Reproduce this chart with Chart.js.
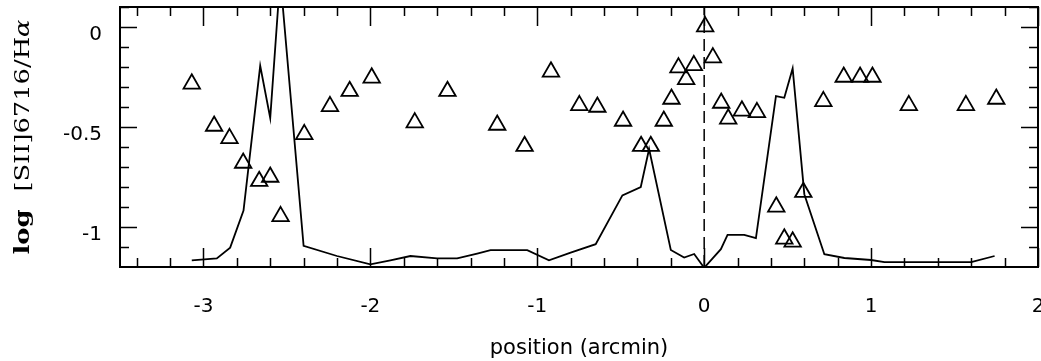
<!DOCTYPE html>
<html>
<head>
<meta charset="utf-8">
<script src="https://cdn.jsdelivr.net/npm/chart.js@4.4.1/dist/chart.umd.min.js"></script>
<style>
	html, body { margin: 0; padding: 0; background: #fff; }
	canvas { display: block; }
</style>
</head>
<body>
<canvas id="ratioChart" width="1041" height="361"></canvas>
<script>
// [SII]6716/Halpha profile along the slit
const LINE_POSITION = [
	-3.07, -2.92, -2.84, -2.76, -2.66, -2.60, -2.54, -2.40, -2.20, -2.00,
	-1.88, -1.76, -1.60, -1.48, -1.36, -1.28, -1.06, -0.93, -0.80, -0.65,
	-0.49, -0.38, -0.33, -0.20, -0.12, -0.06, 0.00, 0.10, 0.14, 0.24,
	0.31, 0.43, 0.48, 0.53, 0.60, 0.72, 0.84, 1.00, 1.08, 1.60, 1.74,
];
const LINE_RATIO = [
	-1.167, -1.157, -1.103, -0.918, -0.194, -0.455, 0.25, -1.094, -1.145, -1.187,
	-1.167, -1.145, -1.157, -1.157, -1.133, -1.116, -1.116, -1.167, -1.128, -1.086,
	-0.842, -0.80, -0.61, -1.115, -1.153, -1.135, -1.204, -1.111, -1.039, -1.039,
	-1.056, -0.345, -0.354, -0.207, -0.836, -1.136, -1.155, -1.165, -1.176, -1.176, -1.145,
];

// individual measurements (triangles)
const TRI_POSITION = [
	-3.07, -2.936, -2.844, -2.762, -2.666, -2.60, -2.538, -2.396, -2.242, -2.124,
	-1.992, -1.734, -1.538, -1.240, -1.076, -0.918, -0.748, -0.640, -0.486, -0.378,
	-0.320, -0.242, -0.196, -0.154, -0.108, -0.062, 0.006, 0.052, 0.102, 0.144,
	0.226, 0.316, 0.432, 0.480, 0.530, 0.594, 0.714, 0.836, 0.934, 1.008,
	1.226, 1.568, 1.750,
];
const TRI_RATIO = [
	-0.284, -0.495, -0.557, -0.680, -0.771, -0.750, -0.947, -0.537, -0.397, -0.321,
	-0.254, -0.478, -0.321, -0.490, -0.596, -0.224, -0.392, -0.400, -0.470, -0.596,
	-0.596, -0.470, -0.360, -0.203, -0.262, -0.192, 0.002, -0.153, -0.380, -0.459,
	-0.419, -0.427, -0.899, -1.059, -1.074, -0.826, -0.372, -0.250, -0.250, -0.250,
	-0.392, -0.392, -0.360,
];

const X_TICKS = [-3, -2, -1, 0, 1, 2];
const Y_TICKS = [-1, -0.5, 0];
const X_RANGE = [-3.5, 2];
const Y_RANGE = [-1.2, 0.1];

function toPoints(xs, ys) {
	return xs.map((x, i) => ({ x: x, y: ys[i] }));
}

// fixed axis boxes, no extra room for overhanging labels
function fixBox(scale, size) {
	if (scale.isHorizontal()) {
		scale.height = size;
	} else {
		scale.width = size;
	}
	scale.paddingTop = 0;
	scale.paddingBottom = 0;
	scale.paddingLeft = 0;
	scale.paddingRight = 0;
}

// inward ticks on all four sides plus the box
const frameTicks = {
	id: 'frameTicks',
	afterDatasetsDraw(chart) {
		const { ctx, chartArea: a, scales } = chart;
		ctx.save();
		ctx.strokeStyle = '#000';
		ctx.lineWidth = 1.5;
		ctx.beginPath();
		for (let i = Math.ceil(X_RANGE[0] / 0.2); i * 0.2 <= X_RANGE[1] + 1e-6; i++) {
			const v = i * 0.2;
			const len = Math.abs(v - Math.round(v)) < 1e-6 ? 19 : 9;
			const px = Math.round(scales.x.getPixelForValue(v)) + 0.5;
			ctx.moveTo(px, a.bottom);
			ctx.lineTo(px, a.bottom - len);
			ctx.moveTo(px, a.top);
			ctx.lineTo(px, a.top + len);
		}
		for (let i = Math.ceil(Y_RANGE[0] / 0.1); i * 0.1 <= Y_RANGE[1] + 1e-6; i++) {
			const v = i * 0.1;
			const len = Math.abs(v * 2 - Math.round(v * 2)) < 1e-6 ? 17 : 9;
			const py = Math.round(scales.y.getPixelForValue(v)) + 0.5;
			ctx.moveTo(a.left, py);
			ctx.lineTo(a.left + len, py);
			ctx.moveTo(a.right, py);
			ctx.lineTo(a.right - len, py);
		}
		ctx.stroke();
		ctx.lineWidth = 2;
		ctx.strokeRect(a.left, a.top, a.right - a.left, a.bottom - a.top);
		ctx.restore();
	},
};

// rotated y-axis title with mixed faces
const yTitle = {
	id: 'yTitle',
	afterDraw(chart) {
		const { ctx, chartArea: a } = chart;
		const parts = [
			['bold 20px "DejaVu Serif"', 'log  '],
			['20px "DejaVu Serif"', '[SII]6716/H'],
			['italic 20px "DejaVu Serif"', 'α'],
		];
		let total = 0;
		parts.forEach(p => {
			ctx.font = p[0];
			total += ctx.measureText(p[1]).width;
		});
		ctx.save();
		ctx.translate(24, (a.top + a.bottom) / 2);
		ctx.rotate(-Math.PI / 2);
		ctx.scale(235 / total, 1);
		ctx.fillStyle = '#000';
		ctx.textBaseline = 'middle';
		let cx = -total / 2;
		parts.forEach(p => {
			ctx.font = p[0];
			ctx.fillText(p[1], cx, 0);
			cx += ctx.measureText(p[1]).width;
		});
		ctx.restore();
	},
};

const ctx = document.querySelector('#ratioChart').getContext('2d');

const chart = new Chart(ctx, {
	type: 'scatter',
	data: {
		datasets: [
			{
				label: 'profile',
				data: toPoints(LINE_POSITION, LINE_RATIO),
				showLine: true,
				borderColor: '#000',
				borderWidth: 1.8,
				pointRadius: 0,
				tension: 0,
			},
			{
				label: 'centre',
				data: toPoints([0, 0], Y_RANGE),
				showLine: true,
				borderColor: '#000',
				borderWidth: 1.5,
				borderDash: [12, 6],
				pointRadius: 0,
			},
			{
				label: 'measurements',
				data: toPoints(TRI_POSITION, TRI_RATIO),
				pointStyle: 'triangle',
				pointRadius: 9.5,
				borderColor: '#000',
				borderWidth: 1.8,
				backgroundColor: 'rgba(0, 0, 0, 0)',
			},
		],
	},
	options: {
		responsive: false,
		maintainAspectRatio: false,
		animation: false,
		layout: {
			autoPadding: false,
			padding: { top: 7, right: 3, left: 0, bottom: 0 },
		},
		scales: {
			x: {
				type: 'linear',
				min: X_RANGE[0],
				max: X_RANGE[1],
				afterFit: scale => fixBox(scale, 94),
				afterBuildTicks: scale => {
					scale.ticks = X_TICKS.map(v => ({ value: v }));
				},
				ticks: {
					callback: v => String(v),
					color: '#000',
					font: { family: '"DejaVu Sans"', size: 20 },
					padding: 28,
					maxRotation: 0,
				},
				grid: { display: false, drawTicks: false },
				border: { display: false },
				title: {
					display: true,
					text: 'position (arcmin)',
					color: '#000',
					font: { family: '"DejaVu Sans"', size: 21 },
					padding: { top: 0, bottom: 0 },
				},
			},
			y: {
				type: 'linear',
				min: Y_RANGE[0],
				max: Y_RANGE[1],
				afterFit: scale => fixBox(scale, 120),
				afterBuildTicks: scale => {
					scale.ticks = Y_TICKS.map(v => ({ value: v }));
				},
				ticks: {
					callback: v => String(v),
					color: '#000',
					font: { family: '"DejaVu Sans"', size: 20 },
					padding: 18,
					labelOffset: 8,
				},
				grid: { display: false, drawTicks: false },
				border: { display: false },
			},
		},
		plugins: {
			legend: { display: false },
			tooltip: { enabled: false },
		},
	},
	plugins: [frameTicks, yTitle],
});
</script>
</body>
</html>
